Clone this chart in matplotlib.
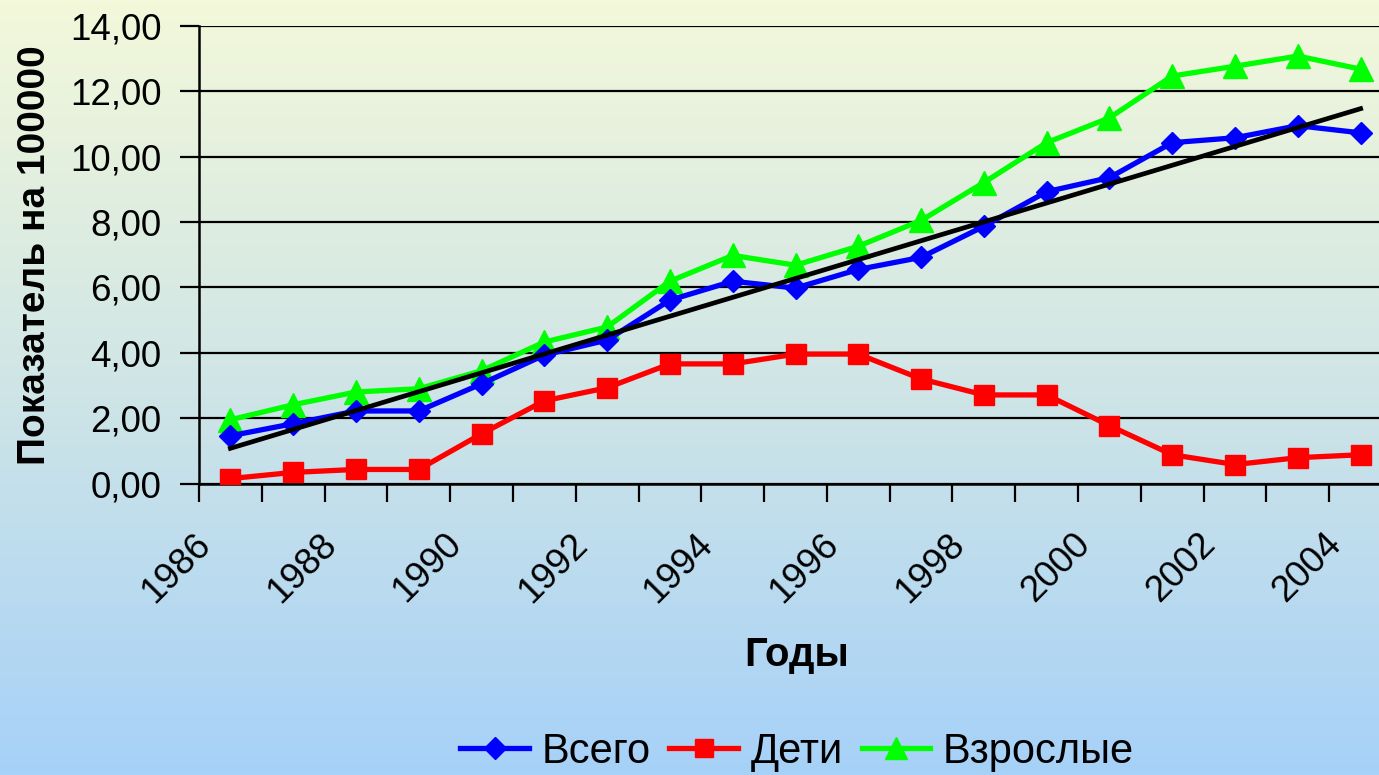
import numpy as np
import matplotlib
matplotlib.use("Agg")
import matplotlib.pyplot as plt
from matplotlib.colors import LinearSegmentedColormap

plt.rcParams['font.family'] = ['Liberation Sans', 'DejaVu Sans']

years = list(range(1986, 2005))
total = [1.46, 1.83, 2.22, 2.22, 3.05, 3.93, 4.39, 5.61, 6.19, 5.98,
         6.55, 6.92, 7.87, 8.93, 9.36, 10.43, 10.58, 10.95, 10.73]
children = [0.15, 0.34, 0.43, 0.43, 1.52, 2.53, 2.93, 3.66, 3.66, 3.96,
            3.96, 3.20, 2.71, 2.71, 1.77, 0.88, 0.58, 0.79, 0.88]
adults = [1.95, 2.41, 2.80, 2.90, 3.45, 4.33, 4.79, 6.19, 6.98, 6.68,
          7.26, 8.05, 9.21, 10.43, 11.19, 12.47, 12.77, 13.08, 12.68]
series_names = ['Всего', 'Дети', 'Взрослые']
y_ticks = [0, 2, 4, 6, 8, 10, 12, 14]

W, H = 1379, 775
fig = plt.figure(figsize=(W / 100, H / 100), dpi=100)

# background gradient
bg = fig.add_axes([0, 0, 1, 1], zorder=-10)
bg.axis('off')
cmap = LinearSegmentedColormap.from_list('bg', ['#f3f8da', '#cfe5e6', '#a6d1f8'])
bg.imshow(np.linspace(0, 1, 256).reshape(-1, 1), aspect='auto', cmap=cmap,
          extent=[0, 1, 0, 1])

ax = fig.add_axes([199 / W, 1 - 483.5 / H, (1392 - 199) / W, (483.5 - 26) / H])
ax.patch.set_alpha(0)
x = np.arange(len(years)) + 0.5

ax.plot(x, total, color='#0000ff', lw=3.8, marker='D', ms=11.5, label=series_names[0], zorder=4)
ax.plot(x, children, color='#ff0000', lw=3.8, marker='s', ms=14, label=series_names[1], zorder=3)
ax.plot(x, adults, color='#00ff00', lw=3.8, marker='^', ms=17, label=series_names[2], zorder=3)

# linear trend of "Всего"
k, b = np.polyfit(x, total, 1)
ax.plot(x, k * x + b, color='black', lw=3.4, zorder=5)

ax.set_xlim(0, len(years))
ax.set_ylim(0, 14)
ax.set_yticks(y_ticks)
ax.set_yticklabels([f"{v:.2f}".replace('.', ',') for v in y_ticks])
ax.yaxis.grid(True, color='black', lw=1.6)
ax.set_axisbelow(True)

# tick marks on category boundaries, labels every second year
ax.set_xticks(np.arange(0, len(years), 2) + 0.3)
ax.set_xticklabels([str(y) for y in years[::2]], rotation=45, ha='right')
ax.set_xticks(np.arange(0, len(years) + 1), minor=True)
ax.tick_params(axis='x', which='major', length=0, labelsize=26.5, pad=31)
ax.tick_params(axis='x', which='minor', direction='out', length=13, width=1.6)
ax.tick_params(axis='y', direction='out', length=14, width=1.6, labelsize=26.5, pad=13)
for s in ['top', 'right']:
    ax.spines[s].set_visible(False)
for s in ['left', 'bottom']:
    ax.spines[s].set_linewidth(1.8)

ax.set_ylabel('Показатель на 100000', fontsize=28, fontweight='bold', labelpad=12)
fig.text(797 / W, 1 - 655 / H, 'Годы', fontsize=29, fontweight='bold', ha='center', va='center')

handles, labels = ax.get_legend_handles_labels()
leg = fig.legend(handles, labels, loc='center', bbox_to_anchor=(797 / W, 1 - 752 / H),
                 ncol=3, frameon=False, fontsize=30, handlelength=1.65,
                 columnspacing=0.45, handletextpad=0.3, markerscale=0.95)

fig.savefig('out.png', dpi=100)
